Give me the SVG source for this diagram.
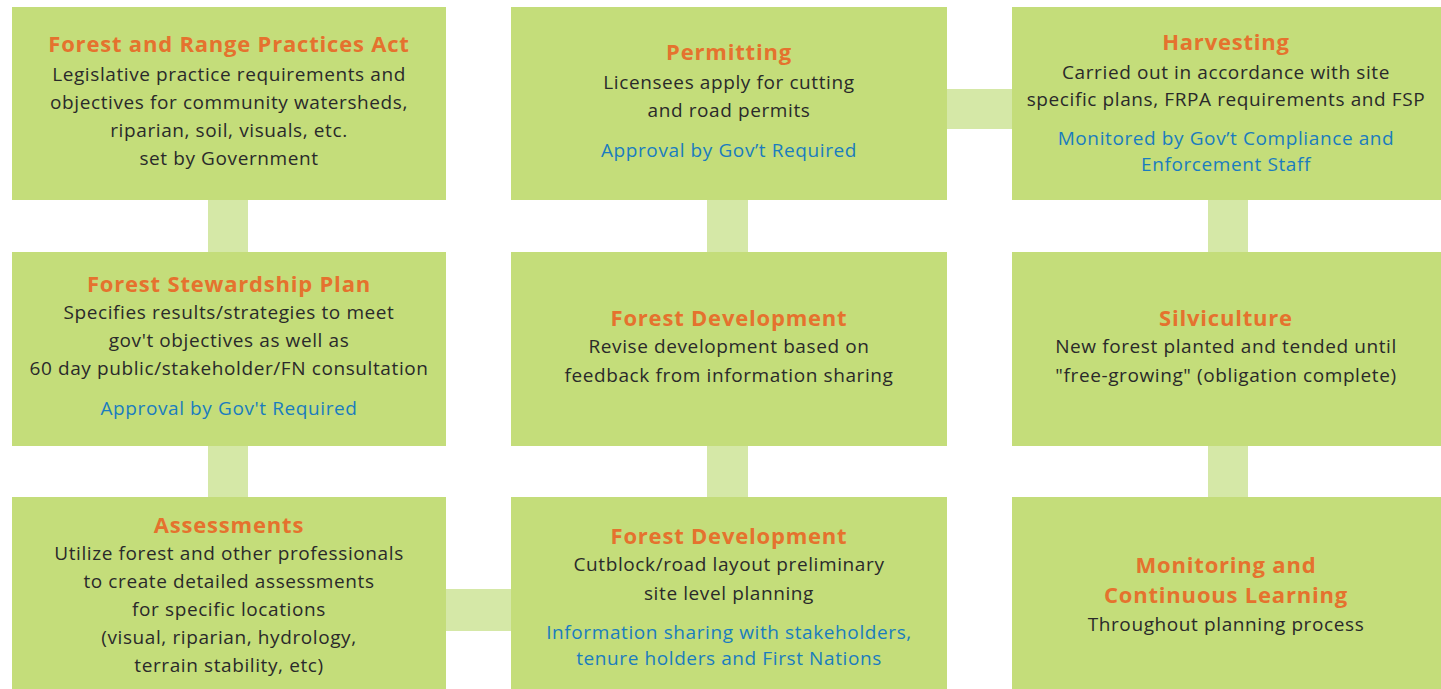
<svg xmlns="http://www.w3.org/2000/svg" width="1441" height="689" viewBox="0 0 1441 689">
<style>
.box{fill:#c4dd7a}
.con{fill:#d5e8a7}
text{font-family:"Open Sans","Liberation Sans",sans-serif;text-anchor:middle}
.t{font-size:22px;font-weight:bold;fill:#e5722e;letter-spacing:0.8px}
.b{font-size:19px;fill:#2a2a2a;letter-spacing:0.6px}
.bl{font-size:19px;fill:#1a7cbf;letter-spacing:0.6px}
</style>
<rect width="1441" height="689" fill="#ffffff"/>
<g id="connectors">
<rect class="con" x="208" y="200" width="40" height="52"/>
<rect class="con" x="208" y="446" width="40" height="51"/>
<rect class="con" x="707" y="200" width="41" height="52"/>
<rect class="con" x="707" y="446" width="41" height="51"/>
<rect class="con" x="1208" y="200" width="40" height="52"/>
<rect class="con" x="1208" y="446" width="40" height="51"/>
<rect class="con" x="947" y="89" width="65" height="40"/>
<rect class="con" x="446" y="589" width="65" height="42"/>
</g>
<g id="frpa">
<rect class="box" x="12" y="7" width="434" height="193"/>
<text class="t" x="229" y="52">Forest and Range Practices Act</text>
<text class="b" x="229" y="81">Legislative practice requirements and</text>
<text class="b" x="229" y="109">objectives for community watersheds,</text>
<text class="b" x="229" y="137">riparian, soil, visuals, etc.</text>
<text class="b" x="229" y="165">set by Government</text>
</g>
<g id="permitting">
<rect class="box" x="511" y="7" width="436" height="193"/>
<text class="t" x="729" y="60">Permitting</text>
<text class="b" x="729" y="89">Licensees apply for cutting</text>
<text class="b" x="729" y="117">and road permits</text>
<text class="bl" x="729" y="157">Approval by Gov’t Required</text>
</g>
<g id="harvesting">
<rect class="box" x="1012" y="7" width="429" height="193"/>
<text class="t" x="1226" y="50">Harvesting</text>
<text class="b" x="1226" y="79">Carried out in accordance with site</text>
<text class="b" x="1226" y="106">specific plans, FRPA requirements and FSP</text>
<text class="bl" x="1226" y="145">Monitored by Gov’t Compliance and</text>
<text class="bl" x="1226" y="171">Enforcement Staff</text>
</g>
<g id="fsp">
<rect class="box" x="12" y="252" width="434" height="194"/>
<text class="t" x="229" y="292">Forest Stewardship Plan</text>
<text class="b" x="229" y="319">Specifies results/strategies to meet</text>
<text class="b" x="229" y="347">gov't objectives as well as</text>
<text class="b" x="229" y="375">60 day public/stakeholder/FN consultation</text>
<text class="bl" x="229" y="415">Approval by Gov't Required</text>
</g>
<g id="forest-development-revise">
<rect class="box" x="511" y="252" width="436" height="194"/>
<text class="t" x="729" y="326">Forest Development</text>
<text class="b" x="729" y="353">Revise development based on</text>
<text class="b" x="729" y="382">feedback from information sharing</text>
</g>
<g id="silviculture">
<rect class="box" x="1012" y="252" width="429" height="194"/>
<text class="t" x="1226" y="326">Silviculture</text>
<text class="b" x="1226" y="353">New forest planted and tended until</text>
<text class="b" x="1226" y="382">"free-growing" (obligation complete)</text>
</g>
<g id="assessments">
<rect class="box" x="12" y="497" width="434" height="192"/>
<text class="t" x="229" y="533">Assessments</text>
<text class="b" x="229" y="560">Utilize forest and other professionals</text>
<text class="b" x="229" y="588">to create detailed assessments</text>
<text class="b" x="229" y="616">for specific locations</text>
<text class="b" x="229" y="644">(visual, riparian, hydrology,</text>
<text class="b" x="229" y="672">terrain stability, etc)</text>
</g>
<g id="forest-development-layout">
<rect class="box" x="511" y="497" width="436" height="192"/>
<text class="t" x="729" y="544">Forest Development</text>
<text class="b" x="729" y="571">Cutblock/road layout preliminary</text>
<text class="b" x="729" y="600">site level planning</text>
<text class="bl" x="729" y="639">Information sharing with stakeholders,</text>
<text class="bl" x="729" y="665">tenure holders and First Nations</text>
</g>
<g id="monitoring">
<rect class="box" x="1012" y="497" width="429" height="192"/>
<text class="t" x="1226" y="573">Monitoring and</text>
<text class="t" x="1226" y="603">Continuous Learning</text>
<text class="b" x="1226" y="631">Throughout planning process</text>
</g>
</svg>
